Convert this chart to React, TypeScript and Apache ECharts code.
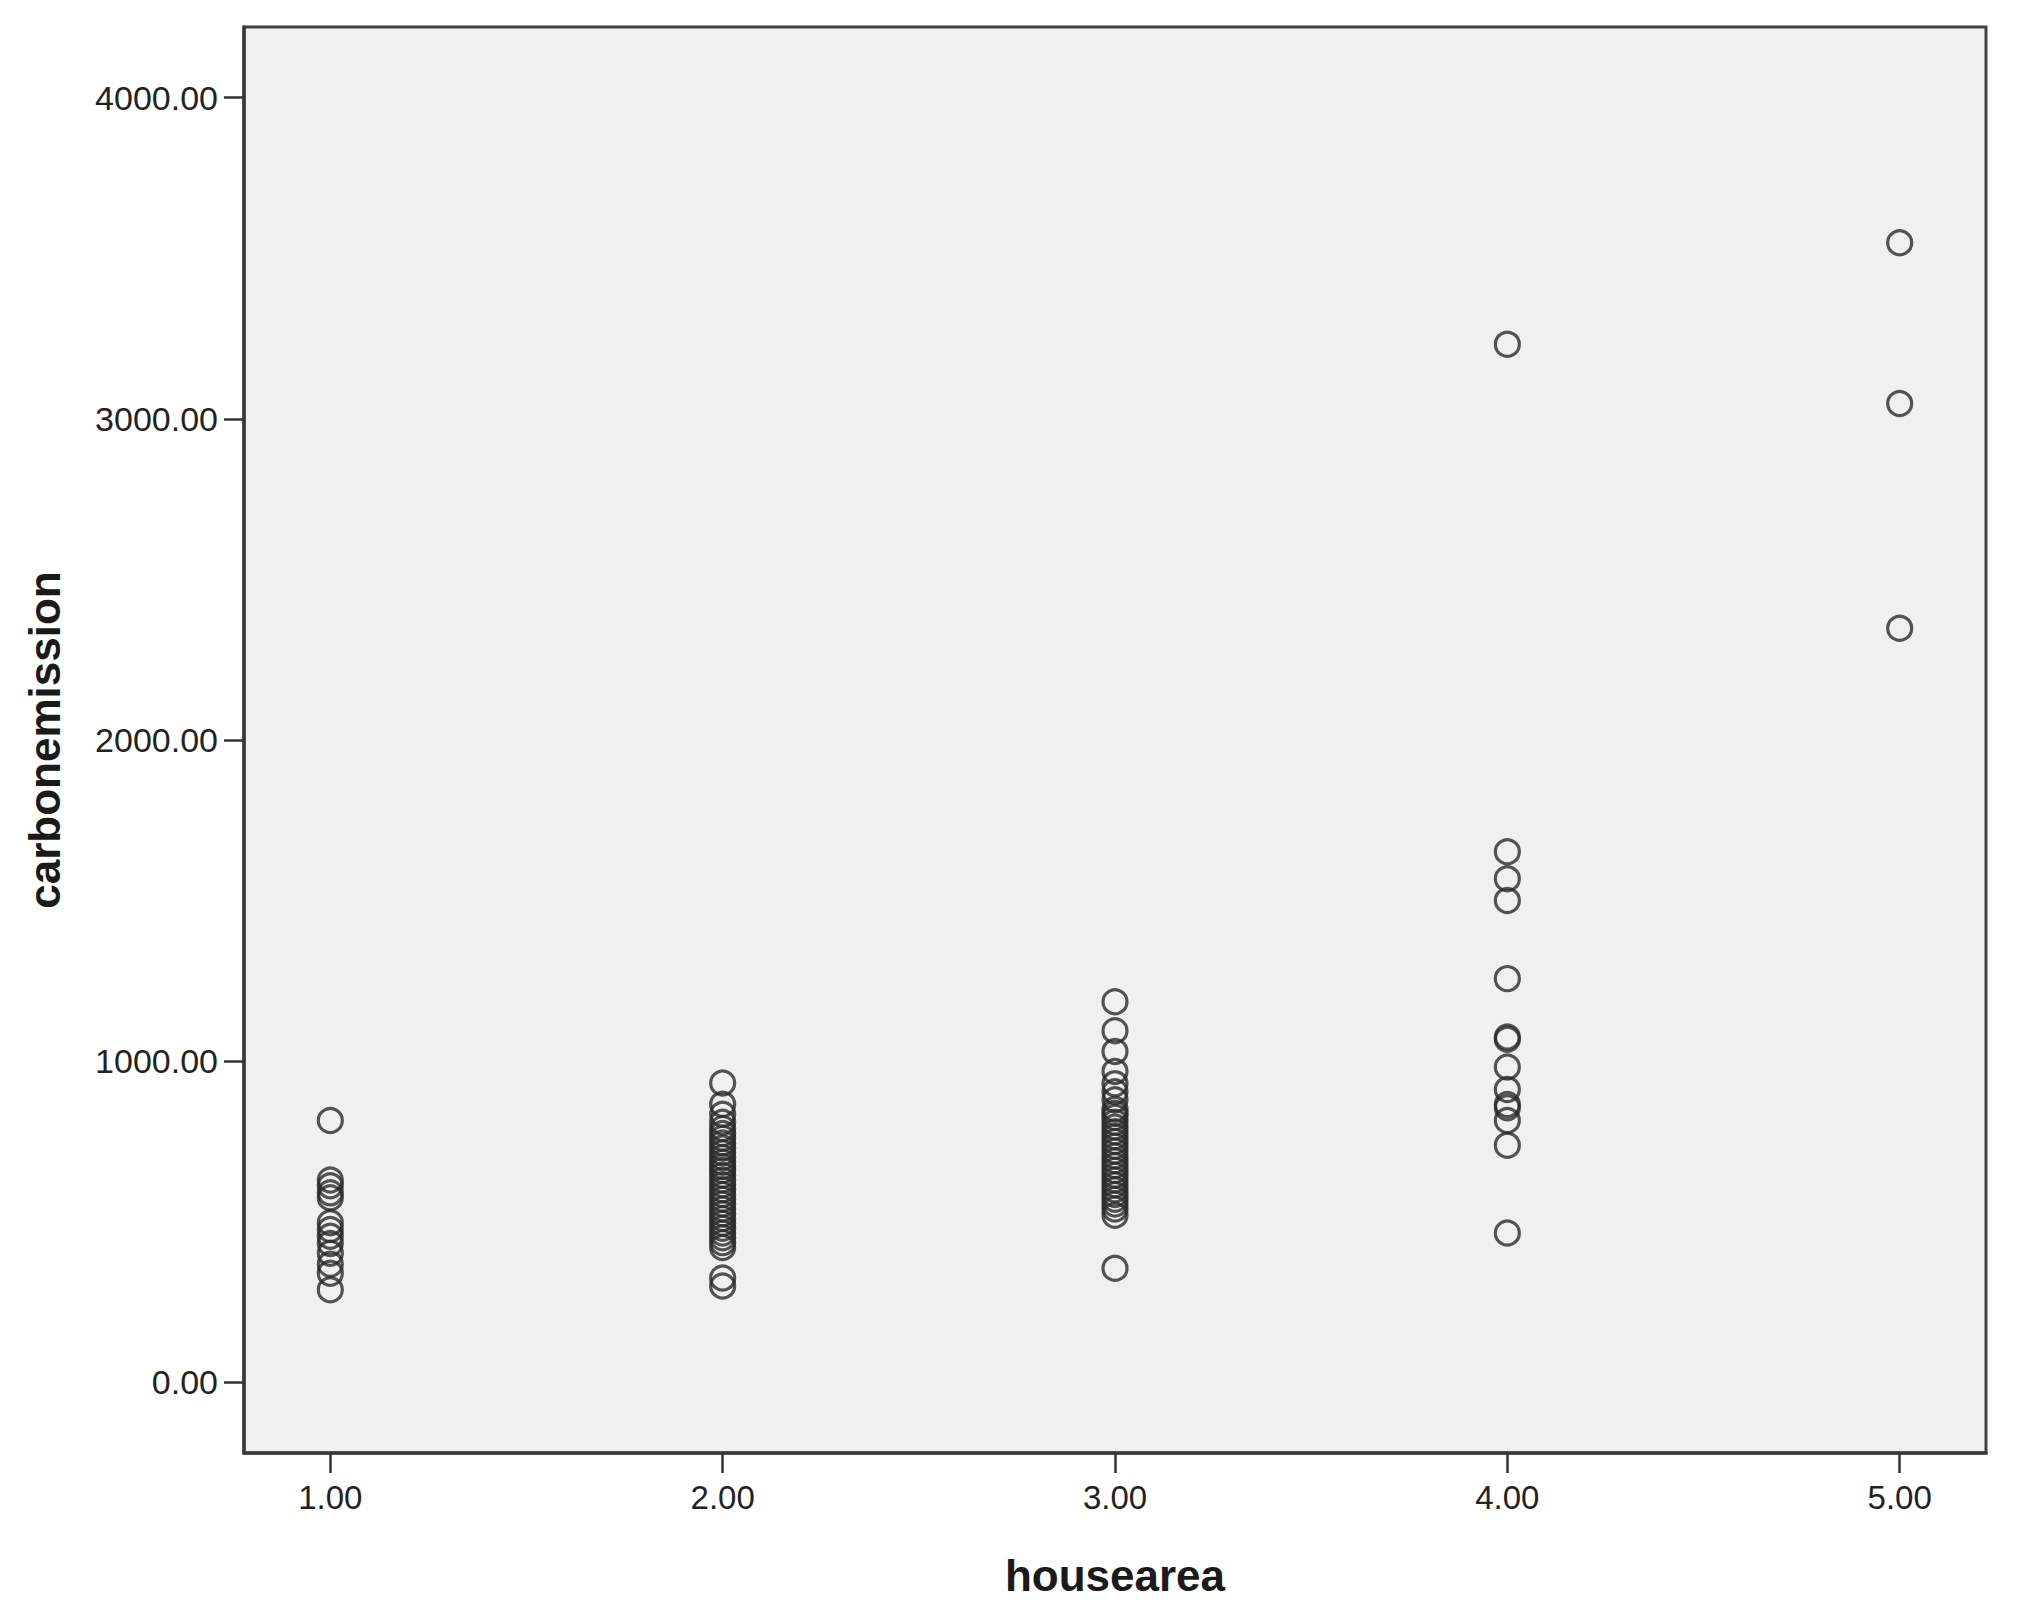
import React, { useEffect, useRef } from "react";
import * as echarts from "echarts";

// Data (SPSS scatter plot: carbonemission vs housearea)
const xTicks = [1, 2, 3, 4, 5];
const yTicks = [0, 1000, 2000, 3000, 4000];

const area1 = [815, 630, 612, 590, 575, 497, 476, 455, 432, 402, 368, 340, 288];
const area2 = [
  932, 866, 835, 810, 790, 775, 760, 745, 730, 715, 700, 685, 672, 660, 645, 630,
  615, 600, 585, 570, 555, 540, 525, 510, 495, 480, 465, 450, 435, 420, 325, 300,
];
const area3 = [
  1185, 1095, 1030, 968, 930, 905, 880, 850, 838, 825, 810, 795, 780, 765, 750,
  735, 720, 705, 690, 675, 660, 645, 630, 615, 600, 585, 570, 555, 540, 520, 355,
];
const area4 = [3232, 1652, 1568, 1500, 1257, 1075, 1068, 982, 912, 865, 855, 815, 738, 465];
const area5 = [3548, 3048, 2348];

const groups = [area1, area2, area3, area4, area5];

export default function App() {
  const ref = useRef<HTMLDivElement>(null);

  useEffect(() => {
    document.body.style.margin = "0";
    document.body.style.overflow = "hidden";
    const chart = echarts.init(ref.current!, null, { renderer: "svg" });
    const points: number[][] = [];
    groups.forEach((g, i) => g.forEach((v) => points.push([xTicks[i], v])));

    const font = "'Liberation Sans', Arial, sans-serif";
    chart.setOption({
      animation: false,
      backgroundColor: "#ffffff",
      grid: {
        left: 244,
        top: 27,
        right: 31,
        bottom: 164,
        show: true,
        backgroundColor: "#f0f0f0",
        borderColor: "#444444",
        borderWidth: 3,
      },
      xAxis: {
        type: "value",
        min: 0.78,
        max: 5.22,
        name: "housearea",
        nameLocation: "middle",
        nameGap: 100,
        nameTextStyle: { fontFamily: font, fontSize: 44, fontWeight: "bold", color: "#1a1a1a" },
        splitLine: { show: false },
        axisLine: { show: true, onZero: false, lineStyle: { color: "#3a3a3a", width: 3.5 } },
        axisTick: {
          show: true,
          length: 20,
          customValues: xTicks,
          lineStyle: { color: "#333333", width: 2.5 },
        },
        axisLabel: {
          customValues: xTicks,
          margin: 28,
          fontFamily: font,
          fontSize: 33,
          color: "#222222",
          formatter: (v: number) => v.toFixed(2),
        },
      },
      yAxis: {
        type: "value",
        min: -220,
        max: 4220,
        name: "carbonemission",
        nameLocation: "middle",
        nameRotate: 90,
        nameGap: 178,
        nameTextStyle: { fontFamily: font, fontSize: 44, fontWeight: "bold", color: "#1a1a1a" },
        splitLine: { show: false },
        axisLine: { show: true, onZero: false, lineStyle: { color: "#3a3a3a", width: 3.5 } },
        axisTick: {
          show: true,
          length: 20,
          customValues: yTicks,
          lineStyle: { color: "#333333", width: 2.5 },
        },
        axisLabel: {
          customValues: yTicks,
          margin: 26,
          fontFamily: font,
          fontSize: 34,
          color: "#222222",
          formatter: (v: number) => v.toFixed(2),
        },
      },
      series: [
        {
          type: "scatter",
          data: points,
          symbol: "circle",
          symbolSize: 24,
          itemStyle: {
            color: "rgba(0,0,0,0)",
            borderColor: "#2a2a2a",
            borderWidth: 3.2,
          },
          emphasis: { disabled: true },
        },
      ],
    });
    return () => chart.dispose();
  }, []);

  return (
    <div
      ref={ref}
      style={{ position: "absolute", left: 0, top: 0, width: 2017, height: 1617 }}
    />
  );
}
